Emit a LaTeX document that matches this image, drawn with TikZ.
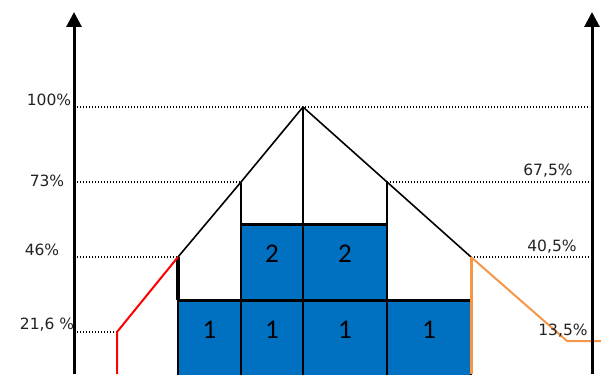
\documentclass[tikz,border=0pt]{standalone}
\usepackage{fontspec}
\setmainfont{DejaVu Sans}
\newfontfamily\cellfont{Carlito}
\usetikzlibrary{arrows.meta}
\definecolor{cellblue}{HTML}{0070C0}
\definecolor{rampred}{HTML}{FF0000}
\definecolor{ramporange}{HTML}{F79646}
\definecolor{pcttext}{HTML}{222222}

\begin{document}
\begin{tikzpicture}[
  x=1pt, y=-1pt,
  axis/.style={-{Triangle[length=15pt, width=15pt]}, line width=3pt},
  guide/.style={line width=1.2pt, dash pattern=on 1.2pt off 1.8pt},
  roof/.style={line width=1.6pt},
  wall/.style={line width=3pt},
  cell/.style={
    draw=black, line width=1.8pt, fill=cellblue, anchor=north west,
    minimum height=76pt, inner sep=0pt, outer sep=0pt,
    text height=17pt, text depth=17pt,
    font=\cellfont\fontsize{27}{30}\selectfont
  },
  pct/.style={font=\fontsize{15.5}{18}\selectfont, text=pcttext, inner sep=0pt},
]

% ============================================================
% Frame
% ============================================================
\useasboundingbox (0,0) rectangle (601,374);
\clip (0,0) rectangle (601,374);

% ============================================================
% Key points of the roof line
% ============================================================
\coordinate (apex) at (303,107);
\coordinate (lshoulder) at (241,182);
\coordinate (rshoulder) at (387,182);
\coordinate (lcorner) at (178,257);
\coordinate (rcorner) at (471,257);
\coordinate (lfoot) at (117,332);
\coordinate (rfoot) at (567,341);

% ============================================================
% Dotted level lines
% ============================================================
\draw[guide] (77,107) -- (590,107);
\draw[guide] (77,182) -- (lshoulder);
\draw[guide] (rshoulder) -- (590,182);
\draw[guide] (77,257) -- (lcorner);
\draw[guide] (rcorner) -- (590,257);
\draw[guide] (77,332) -- (lfoot);

% ============================================================
% Blue cells
% ============================================================
% --- upper row ---
\node[cell, minimum width=62pt] (c21) at (241,224) {2};
\node[cell, minimum width=84pt] (c22) at (303,224) {2};

% --- lower row ---
\node[cell, minimum width=63pt] (c11) at (178,300) {1};
\node[cell, minimum width=62pt] (c12) at (241,300) {1};
\node[cell, minimum width=84pt] (c13) at (303,300) {1};
\node[cell, minimum width=84pt] (c14) at (387,300) {1};

% thick tops of the rows
\draw[wall] (c21.north west) -- (c22.north east);
\draw[wall] (c11.north west) -- (c14.north east);

% ============================================================
% Roof and inner walls
% ============================================================
\draw[roof] (lcorner) -- (lshoulder) -- (apex) -- (rshoulder) -- (rcorner);
\draw[line width=2.4pt] (apex) -- (apex |- c21.north);
\draw[line width=2.4pt] (lshoulder) -- (lshoulder |- c21.north);
\draw[line width=2.4pt] (rshoulder) -- (rshoulder |- c14.north);
\draw[line width=3.2pt] (lcorner) -- (lcorner |- c11.north);

% ============================================================
% Red and orange ramps
% ============================================================
\draw[rampred, line width=2pt] (lcorner) -- (lfoot) -- (117,374);
\draw[ramporange, line width=3pt] (rcorner) -- (471,374);
\draw[ramporange, line width=2pt] (rcorner) -- (rfoot) -- (601,341);

% ============================================================
% Axes
% ============================================================
\draw[axis] (74,374) -- (74,12);
\draw[axis] (592,374) -- (592,12);

% ============================================================
% Level labels
% ============================================================
\node[pct] (p100) at (49,100) {100\%};
\node[pct] (p73) at (47,181) {73\%};
\node[pct] (p46) at (42,250) {46\%};
\node[pct] (p216) at (47,325) {21,6 \%};
\node[pct] (p675) at (548,171) {67,5\%};
\node[pct] (p405) at (552,247) {40,5\%};
\node[pct] (p135) at (563,331) {13,5\%};

\end{tikzpicture}
\end{document}
